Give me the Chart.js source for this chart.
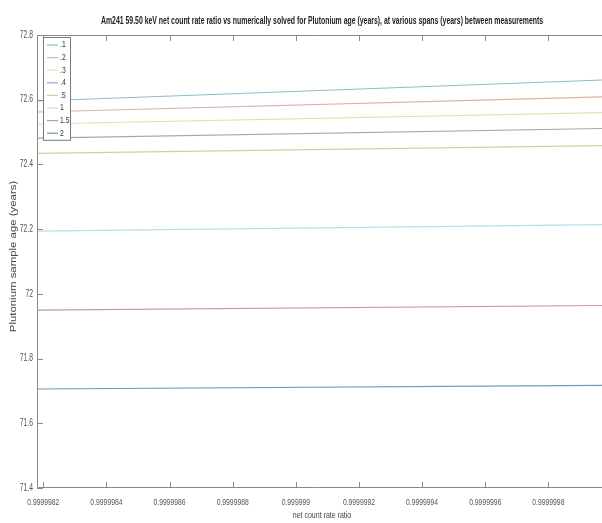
<!DOCTYPE html>
<html>
<head>
<meta charset="utf-8">
<script src="https://cdn.jsdelivr.net/npm/chart.js@4"></script>
<style>
  html, body { margin: 0; padding: 0; background: #fff; }
  #wrap { width: 602px; height: 523px; }
</style>
</head>
<body>
<div id="wrap"><canvas id="ageChart" width="602" height="523"></canvas></div>
<script>
// spans (years) between measurements
var spanLabels = ['.1', '.2', '.3', '.4', '.5', '1', '1.5', '2'];
var spanColors = ['#8dbcd0', '#d9b4a0', '#e8e0a8', '#b59cbf', '#c6d59c', '#b4e0ee', '#c898a2', '#6f9db3'];

// net count rate ratio at the two visible ends of each line
var ratioX = [0.99999818, 0.99999997];

// Plutonium age (years) at start / end of each line
var ageStart = [72.596, 72.562, 72.525, 72.481, 72.434, 72.194, 71.950, 71.706];
var ageEnd   = [72.661, 72.609, 72.560, 72.511, 72.458, 72.214, 71.964, 71.717];

var xTickValues = [0.9999982, 0.9999984, 0.9999986, 0.9999988, 0.999999, 0.9999992, 0.9999994, 0.9999996, 0.9999998];
var xTickLabels = ['0.9999982', '0.9999984', '0.9999986', '0.9999988', '0.999999', '0.9999992', '0.9999994', '0.9999996', '0.9999998'];
var yTickValues = [71.4, 71.6, 71.8, 72, 72.2, 72.4, 72.6, 72.8];
var yTickLabels = ['71.4', '71.6', '71.8', '72', '72.2', '72.4', '72.6', '72.8'];

var titleText = 'Am241 59.50 keV net count rate ratio vs numerically solved for Plutonium age (years), at various spans (years) between measurements';
var xTitle = 'net count rate ratio';
var yTitle = 'Plutonium sample age (years)';

var sans = "'Liberation Sans', Arial, sans-serif";

// text squeezed (or stretched) along its run, optionally rotated
function narrowText(c, txt, x, y, font, sx, align, color, rot) {
  c.save();
  c.font = font;
  c.fillStyle = color;
  c.textBaseline = 'middle';
  c.textAlign = align;
  c.translate(x, y);
  if (rot) c.rotate(rot);
  c.scale(sx, 1);
  c.fillText(txt, 0, 0);
  c.restore();
}

var datasets = spanLabels.map(function (lbl, i) {
  return {
    label: lbl,
    data: [{ x: ratioX[0], y: ageStart[i] }, { x: ratioX[1], y: ageEnd[i] }],
    borderColor: spanColors[i],
    backgroundColor: spanColors[i],
    borderWidth: 1.2,
    pointRadius: 0,
    tension: 0
  };
});

var matlabBox = {
  id: 'matlabBox',
  afterDraw: function (chart) {
    var c = chart.ctx, a = chart.chartArea;
    var xs = chart.scales.x, ys = chart.scales.y;
    c.save();
    c.strokeStyle = '#8a8a8a';
    c.lineWidth = 1;
    // axes box (right side is cut off by the frame)
    c.beginPath();
    c.moveTo(a.right, a.top + 0.5);
    c.lineTo(a.left + 0.5, a.top + 0.5);
    c.lineTo(a.left + 0.5, a.bottom - 0.5);
    c.lineTo(a.right, a.bottom - 0.5);
    c.stroke();
    c.beginPath();
    xTickValues.forEach(function (v) {
      var px = Math.round(xs.getPixelForValue(v)) + 0.5;
      c.moveTo(px, a.bottom);
      c.lineTo(px, a.bottom - 6);
      c.moveTo(px, a.top);
      c.lineTo(px, a.top + 6);
    });
    yTickValues.forEach(function (v) {
      var py = Math.round(ys.getPixelForValue(v)) + 0.5;
      c.moveTo(a.left, py);
      c.lineTo(a.left + 6, py);
    });
    c.stroke();

    // tick labels
    xTickValues.forEach(function (v, i) {
      narrowText(c, xTickLabels[i], xs.getPixelForValue(v), a.bottom + 15, '8.5px ' + sans, 0.8, 'center', '#555');
    });
    yTickValues.forEach(function (v, i) {
      narrowText(c, yTickLabels[i], a.left - 4, ys.getPixelForValue(v), '10px ' + sans, 0.68, 'right', '#555');
    });

    // titles
    var cx = 322;
    narrowText(c, titleText, cx, 21, 'bold 10px ' + sans, 0.69, 'center', '#222');
    narrowText(c, xTitle, cx, a.bottom + 28, '9px ' + sans, 0.78, 'center', '#444');
    narrowText(c, yTitle, 13, (a.top + a.bottom) / 2 - 5, '9.5px ' + sans, 1.2, 'center', '#444', -Math.PI / 2);

    // legend
    var bx = a.left + 6, by = a.top + 2, bw = 27, rowH = 12.6;
    var bh = rowH * chart.data.datasets.length + 2;
    c.fillStyle = '#fff';
    c.fillRect(bx, by, bw, bh);
    c.strokeStyle = '#7a7a7a';
    c.strokeRect(bx + 0.5, by + 0.5, bw, bh);
    chart.data.datasets.forEach(function (ds, i) {
      var y = by + 8 + i * rowH;
      c.strokeStyle = ds.borderColor;
      c.lineWidth = 1.2;
      c.beginPath();
      c.moveTo(bx + 4, y);
      c.lineTo(bx + 15, y);
      c.stroke();
      narrowText(c, ds.label, bx + 17, y, '8.5px ' + sans, 0.8, 'left', '#333');
    });
    c.restore();
  }
};

var chart = new Chart(document.getElementById('ageChart'), {
  type: 'line',
  data: { datasets: datasets },
  plugins: [matlabBox],
  options: {
    responsive: false,
    animation: false,
    events: [],
    layout: { padding: { top: 35, right: 0, left: 0, bottom: 0 } },
    plugins: {
      legend: { display: false },
      tooltip: { enabled: false },
      title: { display: false }
    },
    scales: {
      x: {
        type: 'linear',
        min: 0.99999818,
        max: 0.99999997,
        afterBuildTicks: function (scale) {
          scale.ticks = xTickValues.map(function (v) { return { value: v }; });
        },
        afterFit: function (scale) { scale.height = 35; },
        ticks: { display: false },
        grid: { display: false, drawTicks: false },
        border: { display: false }
      },
      y: {
        min: 71.4,
        max: 72.8,
        afterBuildTicks: function (scale) {
          scale.ticks = yTickValues.map(function (v) { return { value: v }; });
        },
        afterFit: function (scale) { scale.width = 37; },
        ticks: { display: false },
        grid: { display: false, drawTicks: false },
        border: { display: false }
      }
    }
  }
});
</script>
</body>
</html>
